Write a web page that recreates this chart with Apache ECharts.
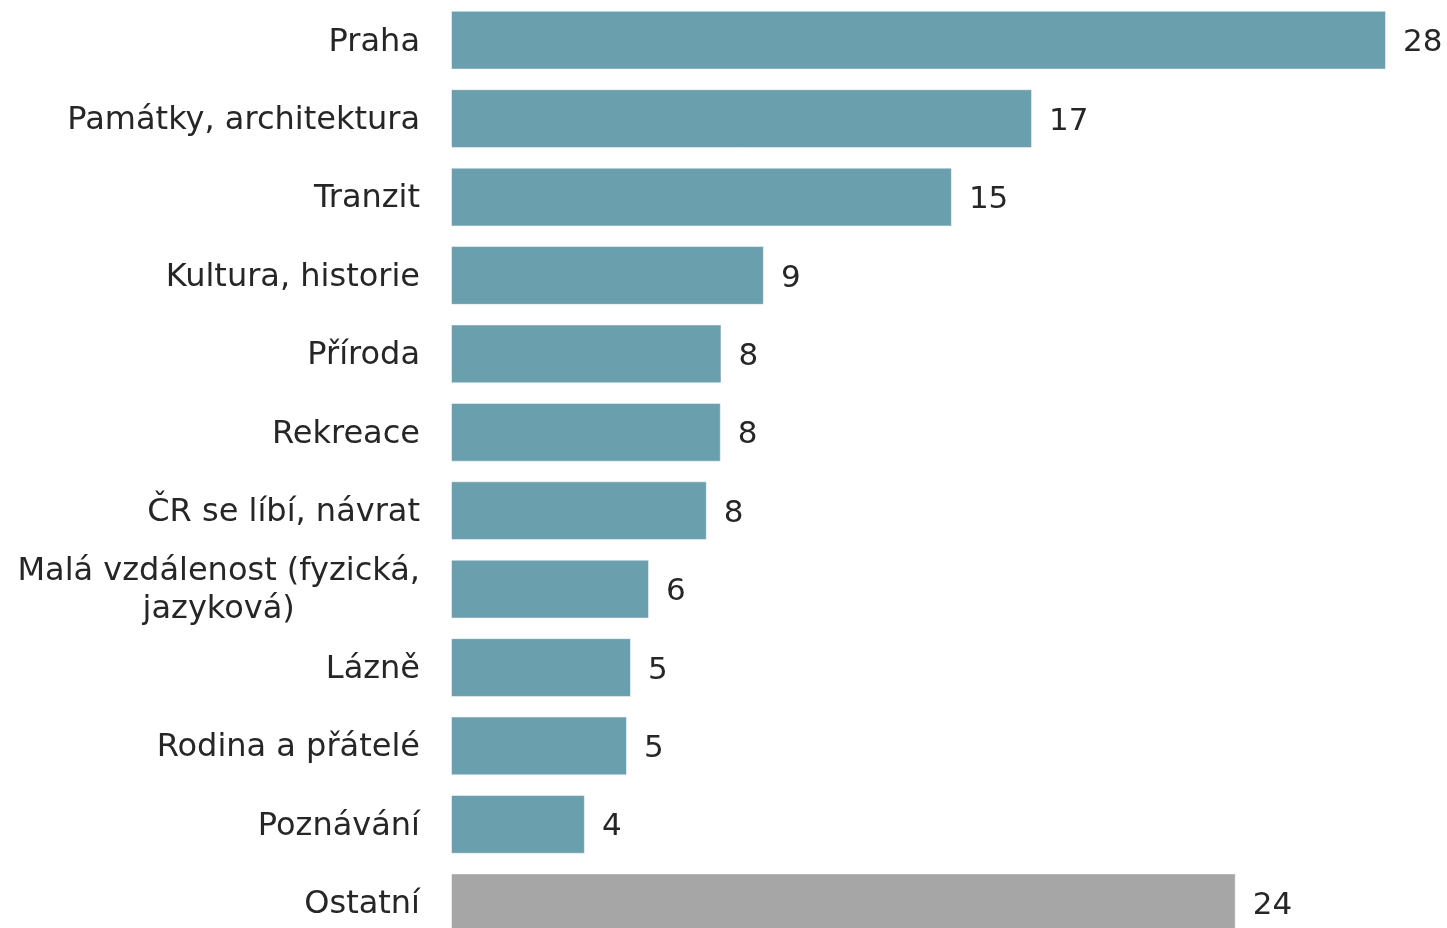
<!DOCTYPE html>
<html>
<head>
<meta charset="utf-8">
<script src="https://cdn.jsdelivr.net/npm/echarts@6/dist/echarts.min.js"></script>
<style>
	html, body { margin: 0; padding: 0; background: #fff; overflow: hidden; }
	/* poslední sloupec je v originále useknutý dolním okrajem */
	#main { width: 1447px; height: 942px; }
</style>
</head>
<body>
<div id="main"></div>
<script>
// kategorie shora dolů
var categories = ['Praha', 'Památky, architektura', 'Tranzit', 'Kultura, historie', 'Příroda',
	'Rekreace', 'ČR se líbí, návrat', 'Malá vzdálenost (fyzická,\njazyková)', 'Lázně',
	'Rodina a přátelé', 'Poznávání', 'Ostatní'];
// hodnoty odečtené z délky sloupců (popisky ukazují zaokrouhleno)
var values = [28.0, 17.4, 15.0, 9.37, 8.1, 8.08, 7.66, 5.93, 5.39, 5.27, 4.01, 23.5];
var barColors = ['#6a9fae', '#6a9fae', '#6a9fae', '#6a9fae', '#6a9fae', '#6a9fae',
	'#6a9fae', '#6a9fae', '#6a9fae', '#6a9fae', '#6a9fae', '#a6a6a6'];

var myChart = echarts.init(document.getElementById('main'));

var seriesData = [];
for (var i = 0; i < values.length; i++) {
	seriesData.push({
		value: values[i],
		itemStyle: { color: barColors[i] }
	});
}

var option = {
	animation: false,
	textStyle: { fontFamily: 'DejaVu Sans' },
	grid: {
		left: 451,
		right: 61,
		top: 1,
		bottom: 0,
		containLabel: false
	},
	xAxis: {
		type: 'value',
		min: 0,
		max: 28,
		show: false
	},
	yAxis: {
		type: 'category',
		inverse: true,
		data: categories,
		axisLine: { show: false },
		axisTick: { show: false },
		axisLabel: {
			margin: 31,
			fontSize: 32,
			color: '#262626',
			lineHeight: 38,
			align: 'right',
			padding: [4, 0, 0, 0],
			// víceřádkové popisky jsou v originále centrované
			formatter: function (v) {
				if (v.indexOf('\n') < 0) return v;
				return v.split('\n').map(function (s) { return '{c|' + s + '}'; }).join('\n');
			},
			rich: {
				c: { fontSize: 32, color: '#262626', lineHeight: 38, align: 'center' }
			}
		}
	},
	series: [{
		type: 'bar',
		data: seriesData,
		barCategoryGap: '25%',
		itemStyle: {
			borderColor: 'rgba(255,255,255,0.5)',
			borderWidth: 1
		},
		label: {
			show: true,
			position: 'right',
			distance: 17,
			fontSize: 31,
			color: '#262626',
			offset: [0, 3],
			formatter: function (p) {
				return Math.round(p.value);
			}
		}
	}]
};

myChart.setOption(option);
</script>
</body>
</html>
